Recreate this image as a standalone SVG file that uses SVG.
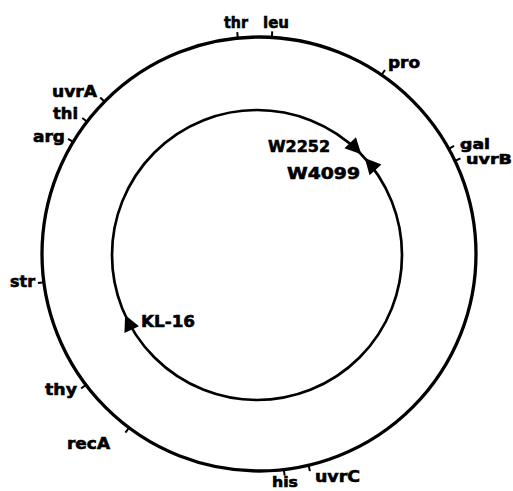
<svg xmlns="http://www.w3.org/2000/svg" width="513" height="491" viewBox="0 0 513 491">
<style>
.lbl{font-family:"DejaVu Sans","Liberation Sans",sans-serif;font-weight:bold;font-size:16px;fill:#000;stroke:#000;stroke-width:0.6}
.sm{font-size:14px}
.tick{stroke:#000;stroke-width:2;fill:none}
.ring{fill:none;stroke:#000}
.arr{fill:#000}
</style>
<defs>
<path id="head" d="M0,0 L-16,-8 L-16,8 Z"/>
</defs>
<rect width="513" height="491" fill="#fff"/>
<g id="connectors">
<circle class="ring" cx="259" cy="254" r="217" stroke-width="3.3"/>
<circle class="ring" cx="257" cy="255" r="145" stroke-width="2.7"/>
</g>
<g id="locus-thr"><line class="tick" x1="216" y1="0" x2="223" y2="0" transform="translate(259,254) rotate(-95.6)"/><text class="lbl" x="224" y="28" textLength="24" lengthAdjust="spacingAndGlyphs">thr</text></g>
<g id="locus-leu"><line class="tick" x1="216" y1="0" x2="223" y2="0" transform="translate(259,254) rotate(-86.6)"/><text class="lbl" x="263" y="28" textLength="26" lengthAdjust="spacingAndGlyphs">leu</text></g>
<g id="locus-pro"><line class="tick" x1="216" y1="0" x2="223" y2="0" transform="translate(259,254) rotate(-55.6)"/><text class="lbl" x="388" y="68" textLength="32" lengthAdjust="spacingAndGlyphs">pro</text></g>
<g id="locus-gal"><line class="tick" x1="216" y1="0" x2="223" y2="0" transform="translate(259,254) rotate(-29)"/><text class="lbl sm" x="460" y="149" textLength="30" lengthAdjust="spacingAndGlyphs">gal</text></g>
<g id="locus-uvrB"><line class="tick" x1="216" y1="0" x2="223" y2="0" transform="translate(259,254) rotate(-25.4)"/><text class="lbl sm" x="466" y="164" textLength="46" lengthAdjust="spacingAndGlyphs">uvrB</text></g>
<g id="locus-uvrA"><line class="tick" x1="216" y1="0" x2="223" y2="0" transform="translate(259,254) rotate(-135.4)"/><text class="lbl" x="52" y="97" textLength="45" lengthAdjust="spacingAndGlyphs">uvrA</text></g>
<g id="locus-thi"><line class="tick" x1="216" y1="0" x2="223" y2="0" transform="translate(259,254) rotate(-142.4)"/><text class="lbl" x="53" y="119" textLength="25" lengthAdjust="spacingAndGlyphs">thi</text></g>
<g id="locus-arg"><line class="tick" x1="216" y1="0" x2="223" y2="0" transform="translate(259,254) rotate(-148.9)"/><text class="lbl" x="33" y="142" textLength="32" lengthAdjust="spacingAndGlyphs">arg</text></g>
<g id="locus-str"><line class="tick" x1="216" y1="0" x2="223" y2="0" transform="translate(259,254) rotate(172.5)"/><text class="lbl" x="10" y="287" textLength="25" lengthAdjust="spacingAndGlyphs">str</text></g>
<g id="locus-thy"><line class="tick" x1="216" y1="0" x2="223" y2="0" transform="translate(259,254) rotate(142.9)"/><text class="lbl" x="45" y="395" textLength="32" lengthAdjust="spacingAndGlyphs">thy</text></g>
<g id="locus-recA"><line class="tick" x1="216" y1="0" x2="223" y2="0" transform="translate(259,254) rotate(126.8)"/><text class="lbl" x="67" y="449" textLength="43" lengthAdjust="spacingAndGlyphs">recA</text></g>
<g id="locus-his"><line class="tick" x1="216" y1="0" x2="223" y2="0" transform="translate(259,254) rotate(83.4)"/><text class="lbl sm" x="272" y="487" textLength="26" lengthAdjust="spacingAndGlyphs">his</text></g>
<g id="locus-uvrC"><line class="tick" x1="216" y1="0" x2="223" y2="0" transform="translate(259,254) rotate(76.8)"/><text class="lbl" x="315" y="482" textLength="45" lengthAdjust="spacingAndGlyphs">uvrC</text></g>
<g id="hfr-W2252"><use href="#head" class="arr" transform="translate(361.3,154.3) rotate(46)"/><text class="lbl" x="268" y="152" textLength="62" lengthAdjust="spacingAndGlyphs">W2252</text></g>
<g id="hfr-W4099"><use href="#head" class="arr" transform="translate(364.8,158) rotate(-132)"/><text class="lbl" x="287" y="179" textLength="73" lengthAdjust="spacingAndGlyphs">W4099</text></g>
<g id="hfr-KL16"><use href="#head" class="arr" transform="translate(125.1,315.1) rotate(245.5)"/><text class="lbl" x="141" y="327" textLength="54" lengthAdjust="spacingAndGlyphs">KL-16</text></g>
</svg>
